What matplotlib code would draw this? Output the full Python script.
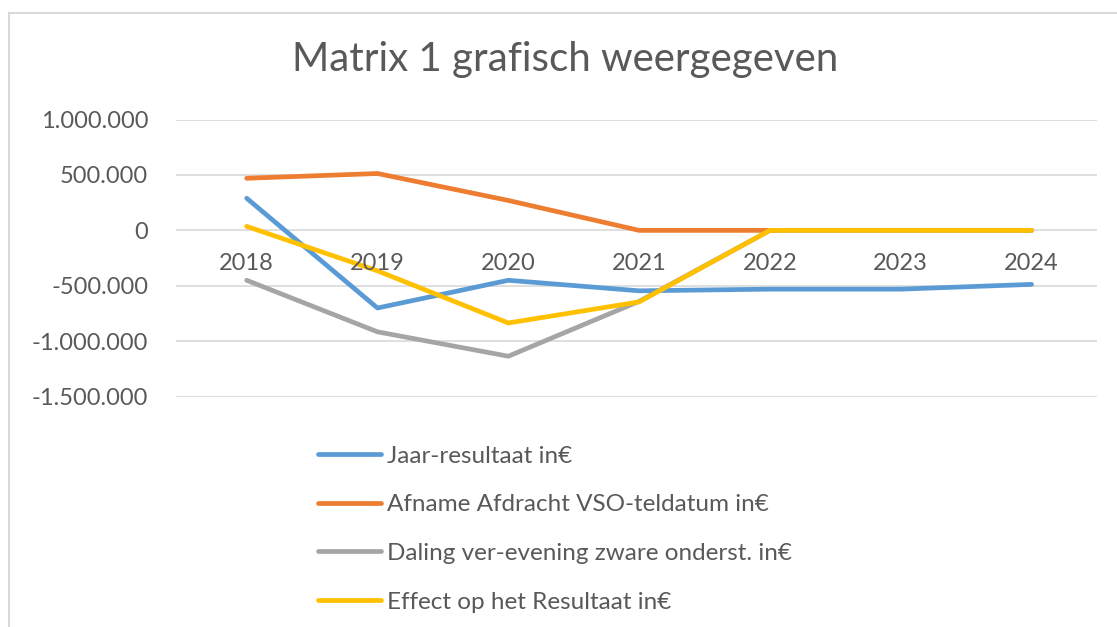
import matplotlib
matplotlib.use("Agg")
import matplotlib.pyplot as plt
from matplotlib.lines import Line2D
from matplotlib.ticker import FuncFormatter

plt.rcParams['font.family'] = ['Lato', 'DejaVu Sans']

# data
years = ['2018', '2019', '2020', '2021', '2022', '2023', '2024']
jaar_resultaat = [290000, -700000, -450000, -545000, -530000, -530000, -487000]
afname_vso = [470000, 513000, 270000, 0, 0, 0, 0]
daling_vereven = [-450000, -915000, -1135000, -640000, 0, 0, 0]
effect_resultaat = [36000, -365000, -835000, -645000, 0, 0, 0]

series_labels = [
    'Jaar-resultaat in€',
    'Afname Afdracht VSO-teldatum in€',
    'Daling ver-evening zware onderst. in€',
    'Effect op het Resultaat in€',
]
colors = ['#5B9BD5', '#ED7D31', '#A5A5A5', '#FFC000']
text_color = '#595959'

fig = plt.figure(figsize=(11.17, 6.27), dpi=100)
ax = fig.add_axes([0.1576, 0.3673, 0.8245, 0.4421])

x = list(range(len(years)))
for vals, col in zip([jaar_resultaat, afname_vso, daling_vereven, effect_resultaat], colors):
    ax.plot(x, vals, color=col, lw=3.4, solid_capstyle='round', solid_joinstyle='round', zorder=3)

ax.set_xlim(-0.54, 6.5)
ax.set_ylim(-1500000, 1000000)
ax.set_yticks([1000000, 500000, 0, -500000, -1000000, -1500000])
ax.yaxis.set_major_formatter(FuncFormatter(lambda v, p: f'{int(v):,}'.replace(',', '.')))
ax.tick_params(axis='y', length=0, pad=20, labelsize=17, labelcolor=text_color)
ax.set_xticks([])
ax.grid(axis='y', color='#D9D9D9', lw=1.2, zorder=0)
for s in ax.spines.values():
    s.set_visible(False)

# category labels sit just below the zero line
for i, yr in enumerate(years):
    ax.annotate(yr, (i, 0), xytext=(0, -24), textcoords='offset points',
                ha='center', va='center', fontsize=17, color=text_color)

fig.text(0.506, 0.905, 'Matrix 1 grafisch weergegeven', ha='center', va='center',
         fontsize=29, color=text_color)

handles = [Line2D([], [], color=c, lw=3.4, solid_capstyle='round') for c in colors]
fig.legend(handles, series_labels, loc='upper left', bbox_to_anchor=(0.276, 0.305),
           frameon=False, fontsize=17.5, labelcolor=text_color, handlelength=2.6,
           handletextpad=0.25, labelspacing=1.14, borderaxespad=0)

# chart border (left and top edges visible in the screenshot)
fig.add_artist(Line2D([0.008, 0.008], [0.0, 0.979], transform=fig.transFigure, color='#D9D9D9', lw=1.5))
fig.add_artist(Line2D([0.008, 1.0], [0.979, 0.979], transform=fig.transFigure, color='#D9D9D9', lw=1.5))

fig.savefig('out.png', dpi=100)
